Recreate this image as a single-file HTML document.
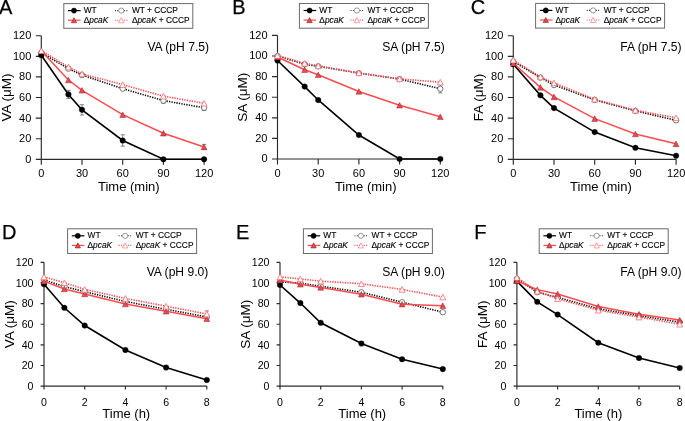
<!DOCTYPE html>
<html><head><meta charset="utf-8"><title>Figure</title>
<style>html,body{margin:0;padding:0;background:#fff;width:685px;height:421px;overflow:hidden}svg{display:block;will-change:transform}.lg{stroke:#000;stroke-width:0.12px}</style>
</head><body>
<svg width="685" height="421" viewBox="0 0 685 421" font-family='"Liberation Sans", sans-serif' fill="#000">
<rect width="685" height="421" fill="#fff"/>
<text x="-1" y="13.7" font-size="20" stroke="#000" stroke-width="0.25">A</text>
<path d="M41.3,35.7V159.3H204.1" fill="none" stroke="#2b2b2b" stroke-width="1.15"/>
<path d="M35.8,159.3H41.3M35.8,138.7H41.3M35.8,118.1H41.3M35.8,97.5H41.3M35.8,76.9H41.3M35.8,56.3H41.3M35.8,35.7H41.3M41.3,159.3V164.8M82,159.3V164.8M122.7,159.3V164.8M163.4,159.3V164.8M204.1,159.3V164.8" fill="none" stroke="#2b2b2b" stroke-width="1.15"/>
<text x="31.3" y="162.76" font-size="11" text-anchor="end">0</text>
<text x="31.3" y="142.16" font-size="11" text-anchor="end">20</text>
<text x="31.3" y="121.56" font-size="11" text-anchor="end">40</text>
<text x="31.3" y="100.96" font-size="11" text-anchor="end">60</text>
<text x="31.3" y="80.36" font-size="11" text-anchor="end">80</text>
<text x="31.3" y="59.76" font-size="11" text-anchor="end">100</text>
<text x="31.3" y="39.16" font-size="11" text-anchor="end">120</text>
<text x="41.3" y="177.1" font-size="11" text-anchor="middle">0</text>
<text x="82" y="177.1" font-size="11" text-anchor="middle">30</text>
<text x="122.7" y="177.1" font-size="11" text-anchor="middle">60</text>
<text x="163.4" y="177.1" font-size="11" text-anchor="middle">90</text>
<text x="204.1" y="177.1" font-size="11" text-anchor="middle">120</text>
<text x="98" y="191" font-size="13">Time (min)</text>
<text transform="translate(11,97.5) rotate(-90)" font-size="13.5" text-anchor="middle">VA (&#956;M)</text>
<text x="209" y="51" font-size="12.1" text-anchor="end">VA (pH 7.5)</text>
<path d="M68.43,90.29V98.53M66.33,90.29H70.53M66.33,98.53H70.53M82,104.71V115.01M79.9,104.71H84.1M79.9,115.01H84.1M122.7,134.79V146.12M120.6,134.79H124.8M120.6,146.12H124.8M204.1,144.37V149.52M202,144.37H206.2M202,149.52H206.2M163.4,98.02V103.17M161.3,98.02H165.5M161.3,103.17H165.5M204.1,105.23V110.38M202,105.23H206.2M202,110.38H206.2" fill="none" stroke="#555" stroke-width="0.7"/>
<polyline points="41.3,52.7 68.43,68.66 82,75.05 122.7,88.64 163.4,100.59 204.1,107.8" fill="none" stroke="#111" stroke-width="1.6" stroke-dasharray="1.3 1.2"/>
<circle cx="41.3" cy="52.7" r="2.7" fill="#fff" stroke="#444" stroke-width="0.7"/>
<circle cx="68.43" cy="68.66" r="2.7" fill="#fff" stroke="#444" stroke-width="0.7"/>
<circle cx="82" cy="75.05" r="2.7" fill="#fff" stroke="#444" stroke-width="0.7"/>
<circle cx="122.7" cy="88.64" r="2.7" fill="#fff" stroke="#444" stroke-width="0.7"/>
<circle cx="163.4" cy="100.59" r="2.7" fill="#fff" stroke="#444" stroke-width="0.7"/>
<circle cx="204.1" cy="107.8" r="2.7" fill="#fff" stroke="#444" stroke-width="0.7"/>
<polyline points="41.3,55.27 68.43,94.41 82,109.86 122.7,140.45 163.4,159.3 204.1,159.3" fill="none" stroke="#000" stroke-width="1.6"/>
<circle cx="41.3" cy="55.27" r="2.8" fill="#000" stroke="#000" stroke-width="0.3"/>
<circle cx="68.43" cy="94.41" r="2.8" fill="#000" stroke="#000" stroke-width="0.3"/>
<circle cx="82" cy="109.86" r="2.8" fill="#000" stroke="#000" stroke-width="0.3"/>
<circle cx="122.7" cy="140.45" r="2.8" fill="#000" stroke="#000" stroke-width="0.3"/>
<circle cx="163.4" cy="159.3" r="2.8" fill="#000" stroke="#000" stroke-width="0.3"/>
<circle cx="204.1" cy="159.3" r="2.8" fill="#000" stroke="#000" stroke-width="0.3"/>
<polyline points="41.3,50.74 68.43,79.99 82,90.29 122.7,114.7 163.4,133.24 204.1,146.94" fill="none" stroke="#ff4a4f" stroke-width="1.5"/>
<polygon points="41.3,47.94 38.35,53.54 44.25,53.54" fill="#f4464c" stroke="#5a1a1a" stroke-width="0.4" stroke-linejoin="miter"/>
<polygon points="68.43,77.19 65.48,82.79 71.38,82.79" fill="#f4464c" stroke="#5a1a1a" stroke-width="0.4" stroke-linejoin="miter"/>
<polygon points="82,87.49 79.05,93.09 84.95,93.09" fill="#f4464c" stroke="#5a1a1a" stroke-width="0.4" stroke-linejoin="miter"/>
<polygon points="122.7,111.9 119.75,117.5 125.65,117.5" fill="#f4464c" stroke="#5a1a1a" stroke-width="0.4" stroke-linejoin="miter"/>
<polygon points="163.4,130.44 160.45,136.04 166.35,136.04" fill="#f4464c" stroke="#5a1a1a" stroke-width="0.4" stroke-linejoin="miter"/>
<polygon points="204.1,144.14 201.15,149.74 207.05,149.74" fill="#f4464c" stroke="#5a1a1a" stroke-width="0.4" stroke-linejoin="miter"/>
<polyline points="41.3,50.64 68.43,67.01 82,73.81 122.7,84.63 163.4,96.16 204.1,103.27" fill="none" stroke="#ff4a4f" stroke-width="1.6" stroke-dasharray="1.3 1.2"/>
<polygon points="41.3,47.83 38.35,53.44 44.25,53.44" fill="#fff" stroke="#f45c5c" stroke-width="0.7" stroke-linejoin="miter"/>
<polygon points="68.43,64.21 65.48,69.81 71.38,69.81" fill="#fff" stroke="#f45c5c" stroke-width="0.7" stroke-linejoin="miter"/>
<polygon points="82,71.01 79.05,76.61 84.95,76.61" fill="#fff" stroke="#f45c5c" stroke-width="0.7" stroke-linejoin="miter"/>
<polygon points="122.7,81.82 119.75,87.43 125.65,87.43" fill="#fff" stroke="#f45c5c" stroke-width="0.7" stroke-linejoin="miter"/>
<polygon points="163.4,93.36 160.45,98.96 166.35,98.96" fill="#fff" stroke="#f45c5c" stroke-width="0.7" stroke-linejoin="miter"/>
<polygon points="204.1,100.47 201.15,106.07 207.05,106.07" fill="#fff" stroke="#f45c5c" stroke-width="0.7" stroke-linejoin="miter"/>
<rect x="63.8" y="3.6" width="129.0" height="24.7" fill="#fff" stroke="#6a6a6a" stroke-width="1"/>
<line x1="68" y1="10.6" x2="80.6" y2="10.6" stroke="#000" stroke-width="1.2"/>
<circle cx="74" cy="10.6" r="2.6" fill="#000" stroke="#000" stroke-width="0.4"/>
<line x1="68" y1="20.2" x2="80.6" y2="20.2" stroke="#ff4a4f" stroke-width="1.2"/>
<polygon points="74,17.64 71.3,22.77 76.7,22.77" fill="#f4464c" stroke="#5a1a1a" stroke-width="0.5" stroke-linejoin="miter"/>
<line x1="114.9" y1="10.6" x2="127.7" y2="10.6" stroke="#333" stroke-width="1.1" stroke-dasharray="1 1.3"/>
<circle cx="121.3" cy="10.6" r="2.6" fill="#fff" stroke="#555" stroke-width="0.6"/>
<line x1="114.9" y1="20.2" x2="127.7" y2="20.2" stroke="#ff4a4f" stroke-width="1.1" stroke-dasharray="1 1.3"/>
<polygon points="121.3,17.64 118.6,22.77 124,22.77" fill="#fff" stroke="#f26a6a" stroke-width="0.6" stroke-linejoin="miter"/>
<text x="83.7" y="13.1" font-size="8.35" class="lg">WT</text>
<text x="83.7" y="23" font-size="8.35" class="lg">&#916;<tspan font-style="italic">pcaK</tspan></text>
<text x="131.9" y="13.1" font-size="8.35" class="lg">WT + CCCP</text>
<text x="131.9" y="23" font-size="8.35" class="lg">&#916;<tspan font-style="italic">pcaK</tspan> + CCCP</text>
<text x="232.3" y="13.7" font-size="20" stroke="#000" stroke-width="0.25">B</text>
<path d="M277.5,35.4V159H440.3" fill="none" stroke="#2b2b2b" stroke-width="1.15"/>
<path d="M272,159H277.5M272,138.4H277.5M272,117.8H277.5M272,97.2H277.5M272,76.6H277.5M272,56H277.5M272,35.4H277.5M277.5,159V164.5M318.2,159V164.5M358.9,159V164.5M399.6,159V164.5M440.3,159V164.5" fill="none" stroke="#2b2b2b" stroke-width="1.15"/>
<text x="267.5" y="162.46" font-size="11" text-anchor="end">0</text>
<text x="267.5" y="141.86" font-size="11" text-anchor="end">20</text>
<text x="267.5" y="121.26" font-size="11" text-anchor="end">40</text>
<text x="267.5" y="100.66" font-size="11" text-anchor="end">60</text>
<text x="267.5" y="80.06" font-size="11" text-anchor="end">80</text>
<text x="267.5" y="59.46" font-size="11" text-anchor="end">100</text>
<text x="267.5" y="38.86" font-size="11" text-anchor="end">120</text>
<text x="277.5" y="176.8" font-size="11" text-anchor="middle">0</text>
<text x="318.2" y="176.8" font-size="11" text-anchor="middle">30</text>
<text x="358.9" y="176.8" font-size="11" text-anchor="middle">60</text>
<text x="399.6" y="176.8" font-size="11" text-anchor="middle">90</text>
<text x="440.3" y="176.8" font-size="11" text-anchor="middle">120</text>
<text x="334.9" y="190.7" font-size="13">Time (min)</text>
<text transform="translate(247.2,97.35) rotate(-90)" font-size="13.5" text-anchor="middle">SA (&#956;M)</text>
<text x="444.8" y="50.7" font-size="12.1" text-anchor="end">SA (pH 7.5)</text>
<path d="M440.3,84.63V92.87M438.2,84.63H442.4M438.2,92.87H442.4" fill="none" stroke="#555" stroke-width="0.7"/>
<polyline points="277.5,56 304.63,64.24 318.2,66.3 358.9,73.1 399.6,79.07 440.3,88.75" fill="none" stroke="#111" stroke-width="1.6" stroke-dasharray="1.3 1.2"/>
<circle cx="277.5" cy="56" r="2.7" fill="#fff" stroke="#444" stroke-width="0.7"/>
<circle cx="304.63" cy="64.24" r="2.7" fill="#fff" stroke="#444" stroke-width="0.7"/>
<circle cx="318.2" cy="66.3" r="2.7" fill="#fff" stroke="#444" stroke-width="0.7"/>
<circle cx="358.9" cy="73.1" r="2.7" fill="#fff" stroke="#444" stroke-width="0.7"/>
<circle cx="399.6" cy="79.07" r="2.7" fill="#fff" stroke="#444" stroke-width="0.7"/>
<circle cx="440.3" cy="88.75" r="2.7" fill="#fff" stroke="#444" stroke-width="0.7"/>
<polyline points="277.5,60.53 304.63,86.59 318.2,99.98 358.9,135 399.6,159 440.3,159" fill="none" stroke="#000" stroke-width="1.6"/>
<circle cx="277.5" cy="60.53" r="2.8" fill="#000" stroke="#000" stroke-width="0.3"/>
<circle cx="304.63" cy="86.59" r="2.8" fill="#000" stroke="#000" stroke-width="0.3"/>
<circle cx="318.2" cy="99.98" r="2.8" fill="#000" stroke="#000" stroke-width="0.3"/>
<circle cx="358.9" cy="135" r="2.8" fill="#000" stroke="#000" stroke-width="0.3"/>
<circle cx="399.6" cy="159" r="2.8" fill="#000" stroke="#000" stroke-width="0.3"/>
<circle cx="440.3" cy="159" r="2.8" fill="#000" stroke="#000" stroke-width="0.3"/>
<polyline points="277.5,57.03 304.63,69.7 318.2,74.75 358.9,91.43 399.6,105.23 440.3,116.77" fill="none" stroke="#ff4a4f" stroke-width="1.5"/>
<polygon points="277.5,54.23 274.55,59.83 280.45,59.83" fill="#f4464c" stroke="#5a1a1a" stroke-width="0.4" stroke-linejoin="miter"/>
<polygon points="304.63,66.9 301.68,72.5 307.58,72.5" fill="#f4464c" stroke="#5a1a1a" stroke-width="0.4" stroke-linejoin="miter"/>
<polygon points="318.2,71.94 315.25,77.55 321.15,77.55" fill="#f4464c" stroke="#5a1a1a" stroke-width="0.4" stroke-linejoin="miter"/>
<polygon points="358.9,88.63 355.95,94.23 361.85,94.23" fill="#f4464c" stroke="#5a1a1a" stroke-width="0.4" stroke-linejoin="miter"/>
<polygon points="399.6,102.43 396.65,108.04 402.55,108.04" fill="#f4464c" stroke="#5a1a1a" stroke-width="0.4" stroke-linejoin="miter"/>
<polygon points="440.3,113.97 437.35,119.57 443.25,119.57" fill="#f4464c" stroke="#5a1a1a" stroke-width="0.4" stroke-linejoin="miter"/>
<polyline points="277.5,55.48 304.63,63.31 318.2,65.89 358.9,72.89 399.6,78.87 440.3,82.16" fill="none" stroke="#ff4a4f" stroke-width="1.6" stroke-dasharray="1.3 1.2"/>
<polygon points="277.5,52.68 274.55,58.29 280.45,58.29" fill="#fff" stroke="#f45c5c" stroke-width="0.7" stroke-linejoin="miter"/>
<polygon points="304.63,60.51 301.68,66.12 307.58,66.12" fill="#fff" stroke="#f45c5c" stroke-width="0.7" stroke-linejoin="miter"/>
<polygon points="318.2,63.09 315.25,68.69 321.15,68.69" fill="#fff" stroke="#f45c5c" stroke-width="0.7" stroke-linejoin="miter"/>
<polygon points="358.9,70.09 355.95,75.69 361.85,75.69" fill="#fff" stroke="#f45c5c" stroke-width="0.7" stroke-linejoin="miter"/>
<polygon points="399.6,76.06 396.65,81.67 402.55,81.67" fill="#fff" stroke="#f45c5c" stroke-width="0.7" stroke-linejoin="miter"/>
<polygon points="440.3,79.36 437.35,84.96 443.25,84.96" fill="#fff" stroke="#f45c5c" stroke-width="0.7" stroke-linejoin="miter"/>
<rect x="299.4" y="3.5" width="129.0" height="24.7" fill="#fff" stroke="#6a6a6a" stroke-width="1"/>
<line x1="303.6" y1="10.5" x2="316.2" y2="10.5" stroke="#000" stroke-width="1.2"/>
<circle cx="309.6" cy="10.5" r="2.6" fill="#000" stroke="#000" stroke-width="0.4"/>
<line x1="303.6" y1="20.1" x2="316.2" y2="20.1" stroke="#ff4a4f" stroke-width="1.2"/>
<polygon points="309.6,17.54 306.9,22.67 312.3,22.67" fill="#f4464c" stroke="#5a1a1a" stroke-width="0.5" stroke-linejoin="miter"/>
<line x1="350.5" y1="10.5" x2="363.3" y2="10.5" stroke="#333" stroke-width="1.1" stroke-dasharray="1 1.3"/>
<circle cx="356.9" cy="10.5" r="2.6" fill="#fff" stroke="#555" stroke-width="0.6"/>
<line x1="350.5" y1="20.1" x2="363.3" y2="20.1" stroke="#ff4a4f" stroke-width="1.1" stroke-dasharray="1 1.3"/>
<polygon points="356.9,17.54 354.2,22.67 359.6,22.67" fill="#fff" stroke="#f26a6a" stroke-width="0.6" stroke-linejoin="miter"/>
<text x="319.3" y="13" font-size="8.35" class="lg">WT</text>
<text x="319.3" y="22.9" font-size="8.35" class="lg">&#916;<tspan font-style="italic">pcaK</tspan></text>
<text x="367.5" y="13" font-size="8.35" class="lg">WT + CCCP</text>
<text x="367.5" y="22.9" font-size="8.35" class="lg">&#916;<tspan font-style="italic">pcaK</tspan> + CCCP</text>
<text x="470.8" y="13.7" font-size="20" stroke="#000" stroke-width="0.25">C</text>
<path d="M513.3,35.7V159.3H676.1" fill="none" stroke="#2b2b2b" stroke-width="1.15"/>
<path d="M507.8,159.3H513.3M507.8,138.7H513.3M507.8,118.1H513.3M507.8,97.5H513.3M507.8,76.9H513.3M507.8,56.3H513.3M507.8,35.7H513.3M513.3,159.3V164.8M554,159.3V164.8M594.7,159.3V164.8M635.4,159.3V164.8M676.1,159.3V164.8" fill="none" stroke="#2b2b2b" stroke-width="1.15"/>
<text x="503.3" y="162.76" font-size="11" text-anchor="end">0</text>
<text x="503.3" y="142.16" font-size="11" text-anchor="end">20</text>
<text x="503.3" y="121.56" font-size="11" text-anchor="end">40</text>
<text x="503.3" y="100.96" font-size="11" text-anchor="end">60</text>
<text x="503.3" y="80.36" font-size="11" text-anchor="end">80</text>
<text x="503.3" y="59.76" font-size="11" text-anchor="end">100</text>
<text x="503.3" y="39.16" font-size="11" text-anchor="end">120</text>
<text x="513.3" y="177.1" font-size="11" text-anchor="middle">0</text>
<text x="554" y="177.1" font-size="11" text-anchor="middle">30</text>
<text x="594.7" y="177.1" font-size="11" text-anchor="middle">60</text>
<text x="635.4" y="177.1" font-size="11" text-anchor="middle">90</text>
<text x="676.1" y="177.1" font-size="11" text-anchor="middle">120</text>
<text x="570.1" y="191" font-size="13">Time (min)</text>
<text transform="translate(483,97.5) rotate(-90)" font-size="13.5" text-anchor="middle">FA (&#956;M)</text>
<text x="681.5" y="51" font-size="12.1" text-anchor="end">FA (pH 7.5)</text>
<path d="M676.1,118.31V122.43M674,118.31H678.2M674,122.43H678.2" fill="none" stroke="#555" stroke-width="0.7"/>
<polyline points="513.3,61.45 540.43,77.62 554,85.04 594.7,99.97 635.4,110.89 676.1,120.37" fill="none" stroke="#111" stroke-width="1.6" stroke-dasharray="1.3 1.2"/>
<circle cx="513.3" cy="61.45" r="2.7" fill="#fff" stroke="#444" stroke-width="0.7"/>
<circle cx="540.43" cy="77.62" r="2.7" fill="#fff" stroke="#444" stroke-width="0.7"/>
<circle cx="554" cy="85.04" r="2.7" fill="#fff" stroke="#444" stroke-width="0.7"/>
<circle cx="594.7" cy="99.97" r="2.7" fill="#fff" stroke="#444" stroke-width="0.7"/>
<circle cx="635.4" cy="110.89" r="2.7" fill="#fff" stroke="#444" stroke-width="0.7"/>
<circle cx="676.1" cy="120.37" r="2.7" fill="#fff" stroke="#444" stroke-width="0.7"/>
<polyline points="513.3,64.33 540.43,95.34 554,108.11 594.7,132.11 635.4,147.76 676.1,155.7" fill="none" stroke="#000" stroke-width="1.6"/>
<circle cx="513.3" cy="64.33" r="2.8" fill="#000" stroke="#000" stroke-width="0.3"/>
<circle cx="540.43" cy="95.34" r="2.8" fill="#000" stroke="#000" stroke-width="0.3"/>
<circle cx="554" cy="108.11" r="2.8" fill="#000" stroke="#000" stroke-width="0.3"/>
<circle cx="594.7" cy="132.11" r="2.8" fill="#000" stroke="#000" stroke-width="0.3"/>
<circle cx="635.4" cy="147.76" r="2.8" fill="#000" stroke="#000" stroke-width="0.3"/>
<circle cx="676.1" cy="155.7" r="2.8" fill="#000" stroke="#000" stroke-width="0.3"/>
<polyline points="513.3,63.3 540.43,87.41 554,96.88 594.7,118.62 635.4,133.96 676.1,143.85" fill="none" stroke="#ff4a4f" stroke-width="1.5"/>
<polygon points="513.3,60.5 510.35,66.11 516.25,66.11" fill="#f4464c" stroke="#5a1a1a" stroke-width="0.4" stroke-linejoin="miter"/>
<polygon points="540.43,84.6 537.48,90.21 543.38,90.21" fill="#f4464c" stroke="#5a1a1a" stroke-width="0.4" stroke-linejoin="miter"/>
<polygon points="554,94.08 551.05,99.68 556.95,99.68" fill="#f4464c" stroke="#5a1a1a" stroke-width="0.4" stroke-linejoin="miter"/>
<polygon points="594.7,115.81 591.75,121.42 597.65,121.42" fill="#f4464c" stroke="#5a1a1a" stroke-width="0.4" stroke-linejoin="miter"/>
<polygon points="635.4,131.16 632.45,136.76 638.35,136.76" fill="#f4464c" stroke="#5a1a1a" stroke-width="0.4" stroke-linejoin="miter"/>
<polygon points="676.1,141.05 673.15,146.65 679.05,146.65" fill="#f4464c" stroke="#5a1a1a" stroke-width="0.4" stroke-linejoin="miter"/>
<polyline points="513.3,60.11 540.43,76.9 554,82.87 594.7,99.25 635.4,110.27 676.1,117.79" fill="none" stroke="#ff4a4f" stroke-width="1.6" stroke-dasharray="1.3 1.2"/>
<polygon points="513.3,57.31 510.35,62.91 516.25,62.91" fill="#fff" stroke="#f45c5c" stroke-width="0.7" stroke-linejoin="miter"/>
<polygon points="540.43,74.1 537.48,79.7 543.38,79.7" fill="#fff" stroke="#f45c5c" stroke-width="0.7" stroke-linejoin="miter"/>
<polygon points="554,80.07 551.05,85.68 556.95,85.68" fill="#fff" stroke="#f45c5c" stroke-width="0.7" stroke-linejoin="miter"/>
<polygon points="594.7,96.45 591.75,102.05 597.65,102.05" fill="#fff" stroke="#f45c5c" stroke-width="0.7" stroke-linejoin="miter"/>
<polygon points="635.4,107.47 632.45,113.07 638.35,113.07" fill="#fff" stroke="#f45c5c" stroke-width="0.7" stroke-linejoin="miter"/>
<polygon points="676.1,114.99 673.15,120.59 679.05,120.59" fill="#fff" stroke="#f45c5c" stroke-width="0.7" stroke-linejoin="miter"/>
<rect x="535.6" y="3.4" width="129.0" height="24.7" fill="#fff" stroke="#6a6a6a" stroke-width="1"/>
<line x1="539.8" y1="10.4" x2="552.4" y2="10.4" stroke="#000" stroke-width="1.2"/>
<circle cx="545.8" cy="10.4" r="2.6" fill="#000" stroke="#000" stroke-width="0.4"/>
<line x1="539.8" y1="20" x2="552.4" y2="20" stroke="#ff4a4f" stroke-width="1.2"/>
<polygon points="545.8,17.43 543.1,22.57 548.5,22.57" fill="#f4464c" stroke="#5a1a1a" stroke-width="0.5" stroke-linejoin="miter"/>
<line x1="586.7" y1="10.4" x2="599.5" y2="10.4" stroke="#333" stroke-width="1.1" stroke-dasharray="1 1.3"/>
<circle cx="593.1" cy="10.4" r="2.6" fill="#fff" stroke="#555" stroke-width="0.6"/>
<line x1="586.7" y1="20" x2="599.5" y2="20" stroke="#ff4a4f" stroke-width="1.1" stroke-dasharray="1 1.3"/>
<polygon points="593.1,17.43 590.4,22.57 595.8,22.57" fill="#fff" stroke="#f26a6a" stroke-width="0.6" stroke-linejoin="miter"/>
<text x="555.5" y="12.9" font-size="8.35" class="lg">WT</text>
<text x="555.5" y="22.8" font-size="8.35" class="lg">&#916;<tspan font-style="italic">pcaK</tspan></text>
<text x="603.7" y="12.9" font-size="8.35" class="lg">WT + CCCP</text>
<text x="603.7" y="22.8" font-size="8.35" class="lg">&#916;<tspan font-style="italic">pcaK</tspan> + CCCP</text>
<text x="2.1" y="238.5" font-size="20" stroke="#000" stroke-width="0.25">D</text>
<path d="M44,262.3V386.1H206.8" fill="none" stroke="#2b2b2b" stroke-width="1.15"/>
<path d="M40.6,386.1H44M40.6,365.47H44M40.6,344.83H44M40.6,324.2H44M40.6,303.57H44M40.6,282.93H44M40.6,262.3H44M44,386.1V389.5M84.7,386.1V389.5M125.4,386.1V389.5M166.1,386.1V389.5M206.8,386.1V389.5" fill="none" stroke="#2b2b2b" stroke-width="1.15"/>
<text x="33.5" y="389.92" font-size="10.6" text-anchor="end">0</text>
<text x="33.5" y="369.28" font-size="10.6" text-anchor="end">20</text>
<text x="33.5" y="348.65" font-size="10.6" text-anchor="end">40</text>
<text x="33.5" y="328.02" font-size="10.6" text-anchor="end">60</text>
<text x="33.5" y="307.38" font-size="10.6" text-anchor="end">80</text>
<text x="33.5" y="286.75" font-size="10.6" text-anchor="end">100</text>
<text x="33.5" y="266.12" font-size="10.6" text-anchor="end">120</text>
<text x="44" y="406.2" font-size="10.6" text-anchor="middle">0</text>
<text x="84.7" y="406.2" font-size="10.6" text-anchor="middle">2</text>
<text x="125.4" y="406.2" font-size="10.6" text-anchor="middle">4</text>
<text x="166.1" y="406.2" font-size="10.6" text-anchor="middle">6</text>
<text x="206.8" y="406.2" font-size="10.6" text-anchor="middle">8</text>
<text x="102.3" y="417.8" font-size="13">Time (h)</text>
<text transform="translate(13.7,324.2) rotate(-90)" font-size="13.5" text-anchor="middle">VA (&#956;M)</text>
<text x="208.3" y="276.1" font-size="12.1" text-anchor="end">VA (pH 9.0)</text>
<path d="M206.8,310.89V317.08M204.7,310.89H208.9M204.7,317.08H208.9" fill="none" stroke="#555" stroke-width="0.7"/>
<polyline points="44,279.84 64.35,286.54 84.7,291.7 125.4,301.5 166.1,309.24 206.8,316.98" fill="none" stroke="#111" stroke-width="1.6" stroke-dasharray="1.3 1.2"/>
<circle cx="44" cy="279.84" r="2.7" fill="#fff" stroke="#444" stroke-width="0.7"/>
<circle cx="64.35" cy="286.54" r="2.7" fill="#fff" stroke="#444" stroke-width="0.7"/>
<circle cx="84.7" cy="291.7" r="2.7" fill="#fff" stroke="#444" stroke-width="0.7"/>
<circle cx="125.4" cy="301.5" r="2.7" fill="#fff" stroke="#444" stroke-width="0.7"/>
<circle cx="166.1" cy="309.24" r="2.7" fill="#fff" stroke="#444" stroke-width="0.7"/>
<circle cx="206.8" cy="316.98" r="2.7" fill="#fff" stroke="#444" stroke-width="0.7"/>
<polyline points="44,284.27 64.35,307.8 84.7,325.54 125.4,349.99 166.1,367.53 206.8,380.01" fill="none" stroke="#000" stroke-width="1.6"/>
<circle cx="44" cy="284.27" r="2.8" fill="#000" stroke="#000" stroke-width="0.3"/>
<circle cx="64.35" cy="307.8" r="2.8" fill="#000" stroke="#000" stroke-width="0.3"/>
<circle cx="84.7" cy="325.54" r="2.8" fill="#000" stroke="#000" stroke-width="0.3"/>
<circle cx="125.4" cy="349.99" r="2.8" fill="#000" stroke="#000" stroke-width="0.3"/>
<circle cx="166.1" cy="367.53" r="2.8" fill="#000" stroke="#000" stroke-width="0.3"/>
<circle cx="206.8" cy="380.01" r="2.8" fill="#000" stroke="#000" stroke-width="0.3"/>
<polyline points="44,281.08 64.35,288.92 84.7,293.97 125.4,303.98 166.1,311.3 206.8,318.73" fill="none" stroke="#ff4a4f" stroke-width="1.5"/>
<polygon points="44,278.27 41.05,283.88 46.95,283.88" fill="#f4464c" stroke="#5a1a1a" stroke-width="0.4" stroke-linejoin="miter"/>
<polygon points="64.35,286.11 61.4,291.72 67.3,291.72" fill="#f4464c" stroke="#5a1a1a" stroke-width="0.4" stroke-linejoin="miter"/>
<polygon points="84.7,291.17 81.75,296.77 87.65,296.77" fill="#f4464c" stroke="#5a1a1a" stroke-width="0.4" stroke-linejoin="miter"/>
<polygon points="125.4,301.18 122.45,306.78 128.35,306.78" fill="#f4464c" stroke="#5a1a1a" stroke-width="0.4" stroke-linejoin="miter"/>
<polygon points="166.1,308.5 163.15,314.11 169.05,314.11" fill="#f4464c" stroke="#5a1a1a" stroke-width="0.4" stroke-linejoin="miter"/>
<polygon points="206.8,315.93 203.85,321.53 209.75,321.53" fill="#f4464c" stroke="#5a1a1a" stroke-width="0.4" stroke-linejoin="miter"/>
<polyline points="44,276.85 64.35,282.73 84.7,289.33 125.4,298.41 166.1,306.15 206.8,313.99" fill="none" stroke="#ff4a4f" stroke-width="1.6" stroke-dasharray="1.3 1.2"/>
<polygon points="44,274.04 41.05,279.65 46.95,279.65" fill="#fff" stroke="#f45c5c" stroke-width="0.7" stroke-linejoin="miter"/>
<polygon points="64.35,279.92 61.4,285.53 67.3,285.53" fill="#fff" stroke="#f45c5c" stroke-width="0.7" stroke-linejoin="miter"/>
<polygon points="84.7,286.53 81.75,292.13 87.65,292.13" fill="#fff" stroke="#f45c5c" stroke-width="0.7" stroke-linejoin="miter"/>
<polygon points="125.4,295.61 122.45,301.21 128.35,301.21" fill="#fff" stroke="#f45c5c" stroke-width="0.7" stroke-linejoin="miter"/>
<polygon points="166.1,303.34 163.15,308.95 169.05,308.95" fill="#fff" stroke="#f45c5c" stroke-width="0.7" stroke-linejoin="miter"/>
<polygon points="206.8,311.18 203.85,316.79 209.75,316.79" fill="#fff" stroke="#f45c5c" stroke-width="0.7" stroke-linejoin="miter"/>
<rect x="67.6" y="228.8" width="129.0" height="24.7" fill="#fff" stroke="#6a6a6a" stroke-width="1"/>
<line x1="71.8" y1="235.8" x2="84.4" y2="235.8" stroke="#000" stroke-width="1.2"/>
<circle cx="77.8" cy="235.8" r="2.6" fill="#000" stroke="#000" stroke-width="0.4"/>
<line x1="71.8" y1="245.4" x2="84.4" y2="245.4" stroke="#ff4a4f" stroke-width="1.2"/>
<polygon points="77.8,242.84 75.1,247.97 80.5,247.97" fill="#f4464c" stroke="#5a1a1a" stroke-width="0.5" stroke-linejoin="miter"/>
<line x1="118.7" y1="235.8" x2="131.5" y2="235.8" stroke="#333" stroke-width="1.1" stroke-dasharray="1 1.3"/>
<circle cx="125.1" cy="235.8" r="2.6" fill="#fff" stroke="#555" stroke-width="0.6"/>
<line x1="118.7" y1="245.4" x2="131.5" y2="245.4" stroke="#ff4a4f" stroke-width="1.1" stroke-dasharray="1 1.3"/>
<polygon points="125.1,242.84 122.4,247.97 127.8,247.97" fill="#fff" stroke="#f26a6a" stroke-width="0.6" stroke-linejoin="miter"/>
<text x="87.5" y="238.3" font-size="8.35" class="lg">WT</text>
<text x="87.5" y="248.2" font-size="8.35" class="lg">&#916;<tspan font-style="italic">pcaK</tspan></text>
<text x="135.7" y="238.3" font-size="8.35" class="lg">WT + CCCP</text>
<text x="135.7" y="248.2" font-size="8.35" class="lg">&#916;<tspan font-style="italic">pcaK</tspan> + CCCP</text>
<text x="236" y="238.5" font-size="20" stroke="#000" stroke-width="0.25">E</text>
<path d="M280,262.3V386.1H442.8" fill="none" stroke="#2b2b2b" stroke-width="1.15"/>
<path d="M276.6,386.1H280M276.6,365.47H280M276.6,344.83H280M276.6,324.2H280M276.6,303.57H280M276.6,282.93H280M276.6,262.3H280M280,386.1V389.5M320.7,386.1V389.5M361.4,386.1V389.5M402.1,386.1V389.5M442.8,386.1V389.5" fill="none" stroke="#2b2b2b" stroke-width="1.15"/>
<text x="269.5" y="389.92" font-size="10.6" text-anchor="end">0</text>
<text x="269.5" y="369.28" font-size="10.6" text-anchor="end">20</text>
<text x="269.5" y="348.65" font-size="10.6" text-anchor="end">40</text>
<text x="269.5" y="328.02" font-size="10.6" text-anchor="end">60</text>
<text x="269.5" y="307.38" font-size="10.6" text-anchor="end">80</text>
<text x="269.5" y="286.75" font-size="10.6" text-anchor="end">100</text>
<text x="269.5" y="266.12" font-size="10.6" text-anchor="end">120</text>
<text x="280" y="406.2" font-size="10.6" text-anchor="middle">0</text>
<text x="320.7" y="406.2" font-size="10.6" text-anchor="middle">2</text>
<text x="361.4" y="406.2" font-size="10.6" text-anchor="middle">4</text>
<text x="402.1" y="406.2" font-size="10.6" text-anchor="middle">6</text>
<text x="442.8" y="406.2" font-size="10.6" text-anchor="middle">8</text>
<text x="338.3" y="417.8" font-size="13">Time (h)</text>
<text transform="translate(249.7,324.2) rotate(-90)" font-size="13.5" text-anchor="middle">SA (&#956;M)</text>
<text x="444.8" y="276.1" font-size="12.1" text-anchor="end">SA (pH 9.0)</text>
<polyline points="280,281.9 300.35,283.14 320.7,286.23 361.4,292.22 402.1,302.23 442.8,312.23" fill="none" stroke="#111" stroke-width="1.6" stroke-dasharray="1.3 1.2"/>
<circle cx="280" cy="281.9" r="2.7" fill="#fff" stroke="#444" stroke-width="0.7"/>
<circle cx="300.35" cy="283.14" r="2.7" fill="#fff" stroke="#444" stroke-width="0.7"/>
<circle cx="320.7" cy="286.23" r="2.7" fill="#fff" stroke="#444" stroke-width="0.7"/>
<circle cx="361.4" cy="292.22" r="2.7" fill="#fff" stroke="#444" stroke-width="0.7"/>
<circle cx="402.1" cy="302.23" r="2.7" fill="#fff" stroke="#444" stroke-width="0.7"/>
<circle cx="442.8" cy="312.23" r="2.7" fill="#fff" stroke="#444" stroke-width="0.7"/>
<polyline points="280,285 300.35,303.05 320.7,322.76 361.4,343.49 402.1,359.28 442.8,369.08" fill="none" stroke="#000" stroke-width="1.6"/>
<circle cx="280" cy="285" r="2.8" fill="#000" stroke="#000" stroke-width="0.3"/>
<circle cx="300.35" cy="303.05" r="2.8" fill="#000" stroke="#000" stroke-width="0.3"/>
<circle cx="320.7" cy="322.76" r="2.8" fill="#000" stroke="#000" stroke-width="0.3"/>
<circle cx="361.4" cy="343.49" r="2.8" fill="#000" stroke="#000" stroke-width="0.3"/>
<circle cx="402.1" cy="359.28" r="2.8" fill="#000" stroke="#000" stroke-width="0.3"/>
<circle cx="442.8" cy="369.08" r="2.8" fill="#000" stroke="#000" stroke-width="0.3"/>
<polyline points="280,280.04 300.35,284.27 320.7,287.47 361.4,294.28 402.1,304.19 442.8,305.63" fill="none" stroke="#ff4a4f" stroke-width="1.5"/>
<polygon points="280,277.24 277.05,282.85 282.95,282.85" fill="#f4464c" stroke="#5a1a1a" stroke-width="0.4" stroke-linejoin="miter"/>
<polygon points="300.35,281.47 297.4,287.08 303.3,287.08" fill="#f4464c" stroke="#5a1a1a" stroke-width="0.4" stroke-linejoin="miter"/>
<polygon points="320.7,284.67 317.75,290.28 323.65,290.28" fill="#f4464c" stroke="#5a1a1a" stroke-width="0.4" stroke-linejoin="miter"/>
<polygon points="361.4,291.48 358.45,297.08 364.35,297.08" fill="#f4464c" stroke="#5a1a1a" stroke-width="0.4" stroke-linejoin="miter"/>
<polygon points="402.1,301.38 399.15,306.99 405.05,306.99" fill="#f4464c" stroke="#5a1a1a" stroke-width="0.4" stroke-linejoin="miter"/>
<polygon points="442.8,302.83 439.85,308.43 445.75,308.43" fill="#f4464c" stroke="#5a1a1a" stroke-width="0.4" stroke-linejoin="miter"/>
<polyline points="280,276.85 300.35,278.91 320.7,281.08 361.4,283.76 402.1,289.43 442.8,297.07" fill="none" stroke="#ff4a4f" stroke-width="1.6" stroke-dasharray="1.3 1.2"/>
<polygon points="280,274.04 277.05,279.65 282.95,279.65" fill="#fff" stroke="#f45c5c" stroke-width="0.7" stroke-linejoin="miter"/>
<polygon points="300.35,276.11 297.4,281.71 303.3,281.71" fill="#fff" stroke="#f45c5c" stroke-width="0.7" stroke-linejoin="miter"/>
<polygon points="320.7,278.27 317.75,283.88 323.65,283.88" fill="#fff" stroke="#f45c5c" stroke-width="0.7" stroke-linejoin="miter"/>
<polygon points="361.4,280.96 358.45,286.56 364.35,286.56" fill="#fff" stroke="#f45c5c" stroke-width="0.7" stroke-linejoin="miter"/>
<polygon points="402.1,286.63 399.15,292.24 405.05,292.24" fill="#fff" stroke="#f45c5c" stroke-width="0.7" stroke-linejoin="miter"/>
<polygon points="442.8,294.26 439.85,299.87 445.75,299.87" fill="#fff" stroke="#f45c5c" stroke-width="0.7" stroke-linejoin="miter"/>
<rect x="303.4" y="228.8" width="129.0" height="24.7" fill="#fff" stroke="#6a6a6a" stroke-width="1"/>
<line x1="307.6" y1="235.8" x2="320.2" y2="235.8" stroke="#000" stroke-width="1.2"/>
<circle cx="313.6" cy="235.8" r="2.6" fill="#000" stroke="#000" stroke-width="0.4"/>
<line x1="307.6" y1="245.4" x2="320.2" y2="245.4" stroke="#ff4a4f" stroke-width="1.2"/>
<polygon points="313.6,242.84 310.9,247.97 316.3,247.97" fill="#f4464c" stroke="#5a1a1a" stroke-width="0.5" stroke-linejoin="miter"/>
<line x1="354.5" y1="235.8" x2="367.3" y2="235.8" stroke="#333" stroke-width="1.1" stroke-dasharray="1 1.3"/>
<circle cx="360.9" cy="235.8" r="2.6" fill="#fff" stroke="#555" stroke-width="0.6"/>
<line x1="354.5" y1="245.4" x2="367.3" y2="245.4" stroke="#ff4a4f" stroke-width="1.1" stroke-dasharray="1 1.3"/>
<polygon points="360.9,242.84 358.2,247.97 363.6,247.97" fill="#fff" stroke="#f26a6a" stroke-width="0.6" stroke-linejoin="miter"/>
<text x="323.3" y="238.3" font-size="8.35" class="lg">WT</text>
<text x="323.3" y="248.2" font-size="8.35" class="lg">&#916;<tspan font-style="italic">pcaK</tspan></text>
<text x="371.5" y="238.3" font-size="8.35" class="lg">WT + CCCP</text>
<text x="371.5" y="248.2" font-size="8.35" class="lg">&#916;<tspan font-style="italic">pcaK</tspan> + CCCP</text>
<text x="474.2" y="238.5" font-size="20" stroke="#000" stroke-width="0.25">F</text>
<path d="M516.9,262.3V386.1H679.7" fill="none" stroke="#2b2b2b" stroke-width="1.15"/>
<path d="M513.5,386.1H516.9M513.5,365.47H516.9M513.5,344.83H516.9M513.5,324.2H516.9M513.5,303.57H516.9M513.5,282.93H516.9M513.5,262.3H516.9M516.9,386.1V389.5M557.6,386.1V389.5M598.3,386.1V389.5M639,386.1V389.5M679.7,386.1V389.5" fill="none" stroke="#2b2b2b" stroke-width="1.15"/>
<text x="506.4" y="389.92" font-size="10.6" text-anchor="end">0</text>
<text x="506.4" y="369.28" font-size="10.6" text-anchor="end">20</text>
<text x="506.4" y="348.65" font-size="10.6" text-anchor="end">40</text>
<text x="506.4" y="328.02" font-size="10.6" text-anchor="end">60</text>
<text x="506.4" y="307.38" font-size="10.6" text-anchor="end">80</text>
<text x="506.4" y="286.75" font-size="10.6" text-anchor="end">100</text>
<text x="506.4" y="266.12" font-size="10.6" text-anchor="end">120</text>
<text x="516.9" y="406.2" font-size="10.6" text-anchor="middle">0</text>
<text x="557.6" y="406.2" font-size="10.6" text-anchor="middle">2</text>
<text x="598.3" y="406.2" font-size="10.6" text-anchor="middle">4</text>
<text x="639" y="406.2" font-size="10.6" text-anchor="middle">6</text>
<text x="679.7" y="406.2" font-size="10.6" text-anchor="middle">8</text>
<text x="574.4" y="417.8" font-size="13">Time (h)</text>
<text transform="translate(486.6,324.2) rotate(-90)" font-size="13.5" text-anchor="middle">FA (&#956;M)</text>
<text x="681.5" y="276.1" font-size="12.1" text-anchor="end">FA (pH 9.0)</text>
<polyline points="516.9,278.81 537.25,292.22 557.6,297.38 598.3,308.73 639,315.64 679.7,322.14" fill="none" stroke="#111" stroke-width="1.6" stroke-dasharray="1.3 1.2"/>
<circle cx="516.9" cy="278.81" r="2.7" fill="#fff" stroke="#444" stroke-width="0.7"/>
<circle cx="537.25" cy="292.22" r="2.7" fill="#fff" stroke="#444" stroke-width="0.7"/>
<circle cx="557.6" cy="297.38" r="2.7" fill="#fff" stroke="#444" stroke-width="0.7"/>
<circle cx="598.3" cy="308.73" r="2.7" fill="#fff" stroke="#444" stroke-width="0.7"/>
<circle cx="639" cy="315.64" r="2.7" fill="#fff" stroke="#444" stroke-width="0.7"/>
<circle cx="679.7" cy="322.14" r="2.7" fill="#fff" stroke="#444" stroke-width="0.7"/>
<polyline points="516.9,281.08 537.25,301.81 557.6,314.61 598.3,342.77 639,357.94 679.7,367.94" fill="none" stroke="#000" stroke-width="1.6"/>
<circle cx="516.9" cy="281.08" r="2.8" fill="#000" stroke="#000" stroke-width="0.3"/>
<circle cx="537.25" cy="301.81" r="2.8" fill="#000" stroke="#000" stroke-width="0.3"/>
<circle cx="557.6" cy="314.61" r="2.8" fill="#000" stroke="#000" stroke-width="0.3"/>
<circle cx="598.3" cy="342.77" r="2.8" fill="#000" stroke="#000" stroke-width="0.3"/>
<circle cx="639" cy="357.94" r="2.8" fill="#000" stroke="#000" stroke-width="0.3"/>
<circle cx="679.7" cy="367.94" r="2.8" fill="#000" stroke="#000" stroke-width="0.3"/>
<polyline points="516.9,280.87 537.25,289.64 557.6,293.97 598.3,306.46 639,314.19 679.7,319.97" fill="none" stroke="#ff4a4f" stroke-width="1.5"/>
<polygon points="516.9,278.07 513.95,283.67 519.85,283.67" fill="#f4464c" stroke="#5a1a1a" stroke-width="0.4" stroke-linejoin="miter"/>
<polygon points="537.25,286.84 534.3,292.44 540.2,292.44" fill="#f4464c" stroke="#5a1a1a" stroke-width="0.4" stroke-linejoin="miter"/>
<polygon points="557.6,291.17 554.65,296.77 560.55,296.77" fill="#f4464c" stroke="#5a1a1a" stroke-width="0.4" stroke-linejoin="miter"/>
<polygon points="598.3,303.65 595.35,309.26 601.25,309.26" fill="#f4464c" stroke="#5a1a1a" stroke-width="0.4" stroke-linejoin="miter"/>
<polygon points="639,311.39 636.05,317 641.95,317" fill="#f4464c" stroke="#5a1a1a" stroke-width="0.4" stroke-linejoin="miter"/>
<polygon points="679.7,317.17 676.75,322.77 682.65,322.77" fill="#f4464c" stroke="#5a1a1a" stroke-width="0.4" stroke-linejoin="miter"/>
<polyline points="516.9,277.47 537.25,291.19 557.6,298.82 598.3,310.17 639,317.08 679.7,324.2" fill="none" stroke="#ff4a4f" stroke-width="1.6" stroke-dasharray="1.3 1.2"/>
<polygon points="516.9,274.66 513.95,280.27 519.85,280.27" fill="#fff" stroke="#f45c5c" stroke-width="0.7" stroke-linejoin="miter"/>
<polygon points="537.25,288.38 534.3,293.99 540.2,293.99" fill="#fff" stroke="#f45c5c" stroke-width="0.7" stroke-linejoin="miter"/>
<polygon points="557.6,296.02 554.65,301.62 560.55,301.62" fill="#fff" stroke="#f45c5c" stroke-width="0.7" stroke-linejoin="miter"/>
<polygon points="598.3,307.37 595.35,312.97 601.25,312.97" fill="#fff" stroke="#f45c5c" stroke-width="0.7" stroke-linejoin="miter"/>
<polygon points="639,314.28 636.05,319.88 641.95,319.88" fill="#fff" stroke="#f45c5c" stroke-width="0.7" stroke-linejoin="miter"/>
<polygon points="679.7,321.4 676.75,327 682.65,327" fill="#fff" stroke="#f45c5c" stroke-width="0.7" stroke-linejoin="miter"/>
<rect x="539.2" y="228.8" width="129.0" height="24.7" fill="#fff" stroke="#6a6a6a" stroke-width="1"/>
<line x1="543.4" y1="235.8" x2="556" y2="235.8" stroke="#000" stroke-width="1.2"/>
<circle cx="549.4" cy="235.8" r="2.6" fill="#000" stroke="#000" stroke-width="0.4"/>
<line x1="543.4" y1="245.4" x2="556" y2="245.4" stroke="#ff4a4f" stroke-width="1.2"/>
<polygon points="549.4,242.84 546.7,247.97 552.1,247.97" fill="#f4464c" stroke="#5a1a1a" stroke-width="0.5" stroke-linejoin="miter"/>
<line x1="590.3" y1="235.8" x2="603.1" y2="235.8" stroke="#333" stroke-width="1.1" stroke-dasharray="1 1.3"/>
<circle cx="596.7" cy="235.8" r="2.6" fill="#fff" stroke="#555" stroke-width="0.6"/>
<line x1="590.3" y1="245.4" x2="603.1" y2="245.4" stroke="#ff4a4f" stroke-width="1.1" stroke-dasharray="1 1.3"/>
<polygon points="596.7,242.84 594,247.97 599.4,247.97" fill="#fff" stroke="#f26a6a" stroke-width="0.6" stroke-linejoin="miter"/>
<text x="559.1" y="238.3" font-size="8.35" class="lg">WT</text>
<text x="559.1" y="248.2" font-size="8.35" class="lg">&#916;<tspan font-style="italic">pcaK</tspan></text>
<text x="607.3" y="238.3" font-size="8.35" class="lg">WT + CCCP</text>
<text x="607.3" y="248.2" font-size="8.35" class="lg">&#916;<tspan font-style="italic">pcaK</tspan> + CCCP</text>
</svg>
</body></html>
